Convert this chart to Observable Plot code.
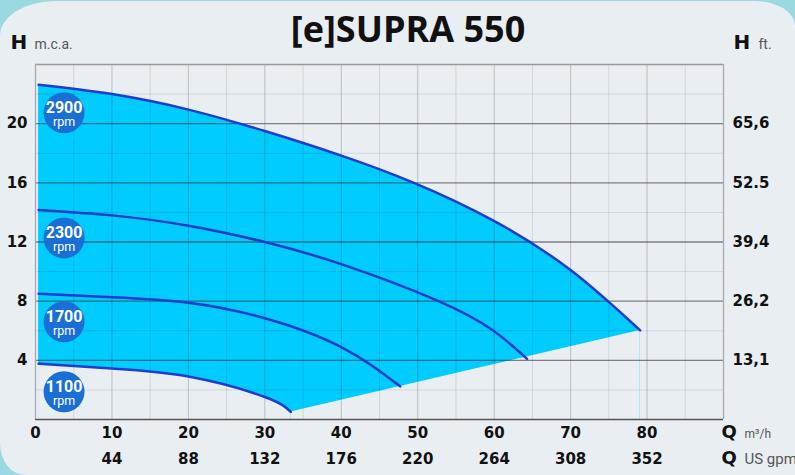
<!DOCTYPE html>
<html><head><meta charset="utf-8">
<script src="https://cdn.jsdelivr.net/npm/d3@7"></script>
<script src="https://cdn.jsdelivr.net/npm/@observablehq/plot@0.6"></script>
<style>
html,body{margin:0;padding:0;width:795px;height:475px;overflow:hidden;background:#9ad9e0;}
#bg{position:absolute;left:0;top:1px;right:0;bottom:0;background:#e9eef3;border-radius:55px 40px 0 25px / 35px 25px 0 32px;}
#chart{position:absolute;left:0;top:0;}
#title{position:absolute;top:11px;left:0;width:816px;text-align:center;font:700 36px/36px "Open Sans";color:#111;}
</style></head>
<body>
<div id="bg"></div>
<div id="chart"></div>
<div id="title">[e]SUPRA 550</div>
<script>
// Flow ticks (m³/h) and matching US gpm labels
const qTicks = [0, 10, 20, 30, 40, 50, 60, 70, 80];
const gpmLabels = ["", "44", "88", "132", "176", "220", "264", "308", "352"];
// Head ticks (m) and matching ft labels
const hTicks = [4, 8, 12, 16, 20];
const ftLabels = ["13,1", "26,2", "39,4", "52.5", "65,6"];

// Pump curves
const rpmLabels = ["2900", "2300", "1700", "1100"];
const q2900 = [0.4, 10, 20, 30, 40, 49.5, 59.9, 70, 79.1];
const h2900 = [22.63, 22.0, 20.95, 19.5, 17.84, 16.0, 13.45, 10.1, 6.02];
const q2300 = [0.4, 10, 20, 30, 40, 52.5, 59.9, 64.3];
const h2300 = [14.17, 13.8, 13.1, 12.0, 10.5, 8.05, 6.0, 4.1];
const q1700 = [0.4, 10, 20, 30, 40, 47.7];
const h1700 = [8.5, 8.27, 7.9, 6.85, 4.9, 2.24];
const q1100 = [0.4, 10, 20, 30, 33.4];
const h1100 = [3.77, 3.44, 2.9, 1.52, 0.51];

const toPts = (qs, hs) => qs.map((q, i) => ({q, h: hs[i]}));
const curves = [toPts(q2900, h2900), toPts(q2300, h2300), toPts(q1700, h1700), toPts(q1100, h1100)];
const starts = curves.map((c, i) => ({...c[0], rpm: rpmLabels[i]}));
const systemLine = [curves[3][curves[3].length - 1], curves[0][curves[0].length - 1]];

const BG = "#e9eef3", FILL = "#00ccff", LINE = "#1f3ccf", BADGE = "#1a6fd6";
const TICKFONT = "DejaVu Sans";
const LIGHT = "Roboto";
const CURVE = "natural";

const minorH = d3.range(2, 24, 4);
const majorQ = d3.range(10, 90, 10);
const minorQ = d3.range(5, 90, 10);

const chart = Plot.plot({
  width: 795, height: 475,
  marginLeft: 35, marginRight: 72, marginTop: 64, marginBottom: 56,
  x: {domain: [0, 90], axis: null},
  y: {domain: [0, 24], axis: null},
  style: {background: "transparent", overflow: "visible"},
  marks: [
    Plot.areaY(curves[0], {x: "q", y: "h", fill: FILL, curve: CURVE}),
    Plot.areaY(curves[3], {x: "q", y: "h", fill: BG, curve: CURVE}),
    Plot.areaY(systemLine, {x: "q", y: "h", fill: BG}),
    Plot.ruleY(minorH, {stroke: "#000", strokeOpacity: 0.1}),
    Plot.ruleX(minorQ, {stroke: "#000", strokeOpacity: 0.1}),
    Plot.ruleX(majorQ, {stroke: "#000", strokeOpacity: 0.2}),
    Plot.ruleY(hTicks, {stroke: "#333", strokeOpacity: 0.6, strokeWidth: 1.3}),
    Plot.ruleY([24], {stroke: "#999", strokeWidth: 1.3}),
    Plot.ruleX([0, 90], {stroke: "#aaa", strokeWidth: 1.3}),
    Plot.ruleY([0], {stroke: "#555", strokeWidth: 1.5}),
    ...curves.map(c => Plot.line(c, {x: "q", y: "h", stroke: LINE, strokeWidth: 2.5, curve: CURVE})),
    Plot.dot(starts, {x: "q", y: "h", r: 20.5, fill: BADGE, dx: 25.5, dy: 28}),
    Plot.text(starts, {x: "q", y: "h", text: "rpm", dx: 25.5, dy: 23, fill: "white", fontFamily: "Roboto", fontWeight: "bold", fontSize: 16}),
    Plot.text(starts, {x: "q", y: "h", text: () => "rpm", dx: 25.5, dy: 37.5, fill: "white", fontFamily: "Roboto", fontSize: 12.5}),
    // left ticks
    Plot.text(hTicks, {y: d => d, frameAnchor: "left", text: d => String(d), textAnchor: "end", dx: -8, fontFamily: TICKFONT, fontWeight: "bold", fontSize: 15, fill: "#111"}),
    // right ticks
    Plot.text(hTicks, {y: d => d, frameAnchor: "right", text: (d, i) => ftLabels[i], textAnchor: "start", dx: 9, fontFamily: TICKFONT, fontWeight: "bold", fontSize: 15, fill: "#111"}),
    // bottom ticks
    Plot.text(qTicks, {x: d => d, frameAnchor: "bottom", text: d => String(d), dy: 18.5, fontFamily: TICKFONT, fontWeight: "bold", fontSize: 15, fill: "#111"}),
    Plot.text(qTicks, {x: d => d, frameAnchor: "bottom", text: (d, i) => gpmLabels[i], dy: 44.5, fontFamily: TICKFONT, fontWeight: "bold", fontSize: 15, fill: "#111"}),
    // axis unit labels
    Plot.text(["H"], {frameAnchor: "top-left", textAnchor: "start", lineAnchor: "bottom", dx: -25, dy: -16, fontFamily: TICKFONT, fontWeight: "bold", fontSize: 20, fill: "#111"}),
    Plot.text(["m.c.a."], {frameAnchor: "top-left", textAnchor: "start", lineAnchor: "bottom", dx: -1, dy: -16, fontFamily: LIGHT, fontSize: 14, fill: "#555"}),
    Plot.text(["H"], {frameAnchor: "top-right", textAnchor: "start", lineAnchor: "bottom", dx: 10, dy: -16, fontFamily: TICKFONT, fontWeight: "bold", fontSize: 20, fill: "#111"}),
    Plot.text(["ft."], {frameAnchor: "top-right", textAnchor: "start", lineAnchor: "bottom", dx: 35, dy: -16, fontFamily: LIGHT, fontSize: 14, fill: "#555"}),
    Plot.text(["Q"], {frameAnchor: "bottom-right", textAnchor: "start", dx: -2, dy: 18.5, fontFamily: TICKFONT, fontWeight: "bold", fontSize: 18, fill: "#111"}),
    Plot.text(["m³/h"], {frameAnchor: "bottom-right", textAnchor: "start", dx: 21, dy: 18.5, fontFamily: LIGHT, fontSize: 12, fill: "#555"}),
    Plot.text(["Q"], {frameAnchor: "bottom-right", textAnchor: "start", dx: -2, dy: 44.5, fontFamily: TICKFONT, fontWeight: "bold", fontSize: 18, fill: "#111"}),
    Plot.text(["US gpm"], {frameAnchor: "bottom-right", textAnchor: "start", dx: 21, dy: 44.5, fontFamily: LIGHT, fontSize: 15, fill: "#555"})
  ]
});
document.getElementById("chart").appendChild(chart);
</script>
</body></html>
